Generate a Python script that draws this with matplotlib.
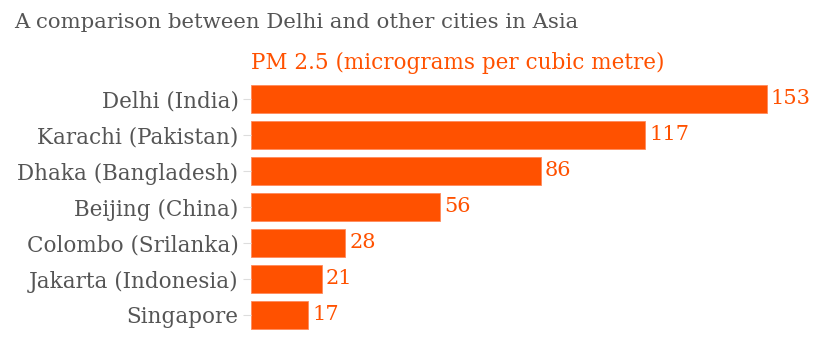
import matplotlib
matplotlib.use('Agg')
import matplotlib.pyplot as plt

cities = ["Delhi (India)", "Karachi (Pakistan)", "Dhaka (Bangladesh)",
          "Beijing (China)", "Colombo (Srilanka)", "Jakarta (Indonesia)",
          "Singapore"]
pm25 = [153, 117, 86, 56, 28, 21, 17]

orange = "#ff5100"
grey = "#555555"

plt.rcParams['font.family'] = ['DejaVu Serif']

fig = plt.figure(figsize=(8.4, 3.62), dpi=100)
ax = fig.add_axes([251 / 840, 29 / 362, 573 / 840, 252 / 362])

ypos = list(range(len(cities)))
ax.barh(ypos, pm25, height=0.77, color=orange, edgecolor="#ff8a5c", linewidth=0.6)

for y, v in zip(ypos, pm25):
    ax.text(v + 1.2, y, str(v), color=orange, fontsize=15, va="center", ha="left")

ax.set_xlim(0, 170)
ax.set_ylim(len(cities) - 0.5, -0.5)
ax.set_yticks(ypos)
ax.set_yticklabels(cities, fontsize=15.5, color=grey)
ax.tick_params(axis="y", length=6, color="#dddddd", pad=3)
ax.set_xticks([])
for s in ax.spines.values():
    s.set_visible(False)

fig.text(14 / 840, 1 - 22 / 362, "A comparison between Delhi and other cities in Asia",
         fontsize=15.3, color=grey, ha="left", va="center")
fig.text(251 / 840, 1 - 63 / 362, "PM 2.5 (micrograms per cubic metre)",
         fontsize=15.5, color=orange, ha="left", va="center")

fig.savefig("out.png", dpi=100)
